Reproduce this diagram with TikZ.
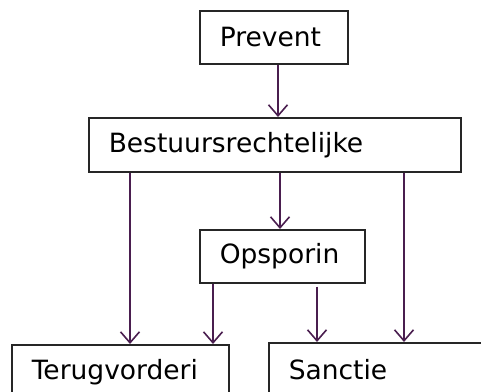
\documentclass[tikz,border=0pt]{standalone}
\usepackage{fontspec}
\setmainfont{DejaVu Sans}
\usetikzlibrary{arrows.meta}
\definecolor{linkpurple}{HTML}{4A1E4F}
\tikzstyle{box} = [draw=black!85, line width=1.5pt, rectangle, anchor=north west,
    inner xsep=20pt, align=left, font=\fontsize{26.5}{32}\selectfont]
\tikzstyle{link} = [-{Straight Barb[length=11pt,width=19pt,line width=1.6pt]},
    linkpurple, line width=1.8pt]

\begin{document}
\begin{tikzpicture}[x=1pt, y=-1pt]
    \useasboundingbox (0,0) rectangle (481,391);
    \node [box, minimum width=148pt, minimum height=53pt, text width=108pt] (prevent) at (199,10) {Prevent};
    \node [box, minimum width=372pt, minimum height=54pt, text width=332pt] (bestuur) at (88,117) {Bestuursrechtelijke};
    \node [box, minimum width=165pt, minimum height=53pt, text width=125pt] (opsporing) at (199,229) {Opsporin};
    \node [box, minimum width=217pt, minimum height=54pt, text width=177pt] (terug) at (11,344) {Terugvorderi};
    \node [box, minimum width=240pt, minimum height=54pt, text width=200pt] (sanctie) at (268,342) {Sanctie};
    % verbindingen
    \draw [link] ([xshift=79pt]prevent.south west) -- ([xshift=79pt]prevent.south west |- bestuur.north);
    \draw [link] ([xshift=42pt]bestuur.south west) -- ([xshift=42pt]bestuur.south west |- terug.north);
    \draw [link] ([xshift=192pt]bestuur.south west) -- ([xshift=192pt]bestuur.south west |- opsporing.north);
    \draw [link] ([xshift=316pt]bestuur.south west) -- ([xshift=316pt]bestuur.south west |- sanctie.north);
    \draw [link] ([xshift=14pt]opsporing.south west) -- ([xshift=14pt]opsporing.south west |- terug.north);
    \draw [link] ([xshift=118pt,yshift=-3pt]opsporing.south west) -- ([xshift=118pt]opsporing.south west |- sanctie.north);
\end{tikzpicture}
\end{document}
